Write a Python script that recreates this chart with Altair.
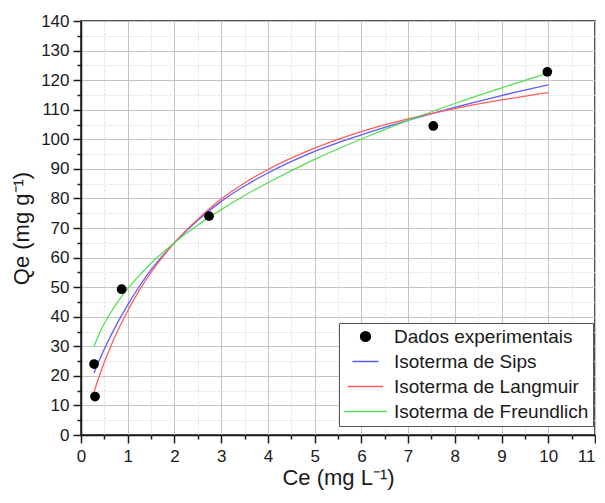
import altair as alt
import pandas as pd

# ---- data ----
ce_exp = [0.28, 0.30, 0.87, 2.74, 7.54, 9.98]
qe_exp = [24.0, 13.0, 49.3, 74.0, 104.5, 122.8]

ce_fit = [0.28, 0.4, 0.5, 0.6, 0.75, 1.0, 1.25, 1.5, 2.0, 2.5, 3.0, 3.5, 4.0, 5.0, 6.0, 7.0, 8.0, 9.0, 10.0]
qe_sips = [21.0, 25.6, 29.1, 32.4, 37.0, 44.0, 50.3, 55.9, 65.0, 72.6, 79.0, 84.2, 88.6, 95.9, 101.5, 106.4, 110.8, 114.8, 118.4]
qe_langmuir = [14.6, 20.3, 24.6, 28.6, 34.0, 42.0, 49.0, 55.0, 65.0, 73.0, 79.8, 85.2, 89.8, 97.0, 102.6, 106.9, 110.4, 113.3, 115.8]
qe_freundlich = [30.0, 34.5, 37.7, 40.5, 44.2, 49.5, 54.0, 58.1, 65.0, 71.0, 76.2, 81.0, 85.3, 93.2, 100.1, 106.4, 112.1, 117.4, 122.4]

series = ["Dados experimentais", "Isoterma de Sips", "Isoterma de Langmuir", "Isoterma de Freundlich"]
colors = ["#000000", "#5c5cff", "#ff5c5c", "#55e055"]

x_major = list(range(0, 12))
x_minor = [i * 0.5 for i in range(1, 22, 2)]
y_major = list(range(0, 141, 10))
y_minor = list(range(5, 140, 10))

fit_rows = []
for name, vals in [(series[1], qe_sips), (series[2], qe_langmuir), (series[3], qe_freundlich)]:
    for c, q in zip(ce_fit, vals):
        fit_rows.append({"Ce": c, "Qe": q, "serie": name})
fit_df = pd.DataFrame(fit_rows)
exp_df = pd.DataFrame({"Ce": ce_exp, "Qe": qe_exp, "serie": [series[0]] * len(ce_exp)})

FONT = "Liberation Sans"
TXT = "#1a1a1a"

xscale = alt.Scale(domain=[0, 11], nice=False, zero=False)
yscale = alt.Scale(domain=[0, 140], nice=False, zero=False)

legend = alt.Legend(
    title=None, orient="none", legendX=258, legendY=302, direction="vertical",
    padding=4, strokeColor="#555555", fillColor="white", cornerRadius=0,
    labelFontSize=19, labelFont=FONT, labelColor=TXT, rowPadding=5, clipHeight=19,
    labelOffset=6, symbolStrokeWidth=1.5, labelLimit=400,
)

color_enc = alt.Color("serie:N", scale=alt.Scale(domain=series, range=colors), legend=legend)

minor_x_axis = alt.Axis(values=x_minor, orient="bottom", labels=False, title=None, domain=False,
                        tickSize=4, tickWidth=1.5, tickColor=TXT, grid=True,
                        gridColor="#dedede", gridDash=[2, 2], gridWidth=1)
minor_y_axis = alt.Axis(values=y_minor, orient="left", labels=False, title=None, domain=False,
                        tickSize=4, tickWidth=1.5, tickColor=TXT, grid=True,
                        gridColor="#dedede", gridDash=[2, 2], gridWidth=1)

major_x_axis = alt.Axis(values=x_major, orient="bottom", title="Ce (mg L⁻¹)", tickSize=8, tickWidth=1.5,
                        tickColor=TXT, domainColor=TXT, domainWidth=1.5, labelFlush=False,
                        labelAlign={"condition": {"test": "datum.value == 11", "value": "right"}, "value": "center"},
                        labelFont=FONT, labelFontSize=17, labelColor=TXT, labelPadding=5,
                        titleFont=FONT, titleFontSize=22, titleFontWeight="normal", titleColor=TXT,
                        titlePadding=3, grid=True, gridColor="#c4c4c4", gridWidth=1)
major_y_axis = alt.Axis(values=y_major, orient="left", title="Qe (mg g⁻¹)", tickSize=8, tickWidth=1.5,
                        tickColor=TXT, domainColor=TXT, domainWidth=1.5, labelFlush=False,
                        labelFont=FONT, labelFontSize=17, labelColor=TXT, labelPadding=4,
                        titleFont=FONT, titleFontSize=22, titleFontWeight="normal", titleColor=TXT,
                        titlePadding=7, grid=True, gridColor="#c4c4c4", gridWidth=1)

lines = alt.Chart(fit_df).mark_line(strokeWidth=1.3, interpolate="monotone").encode(
    x=alt.X("Ce:Q", scale=xscale, axis=minor_x_axis),
    y=alt.Y("Qe:Q", scale=yscale, axis=minor_y_axis),
    color=color_enc,
    detail="serie:N",
)

points = alt.Chart(exp_df).mark_point(filled=True, opacity=1).encode(
    x=alt.X("Ce:Q", scale=xscale, axis=major_x_axis),
    y=alt.Y("Qe:Q", scale=yscale, axis=major_y_axis),
    color=color_enc,
    shape=alt.Shape("serie:N", scale=alt.Scale(domain=series, range=["circle", "stroke", "stroke", "stroke"]), legend=legend),
    size=alt.Size("serie:N", scale=alt.Scale(domain=series, range=[95, 1850, 1850, 1850]), legend=legend),
)

chart = alt.layer(lines, points).resolve_axis(x="independent", y="independent").properties(
    width=514, height=414,
    autosize=alt.AutoSizeParams(type="none"),
    padding={"left": 73, "top": 13, "right": 1, "bottom": 57},
).configure_view(stroke=TXT, strokeWidth=1.5)

chart.save("out.html", embed_options={"renderer": "svg", "actions": False})
